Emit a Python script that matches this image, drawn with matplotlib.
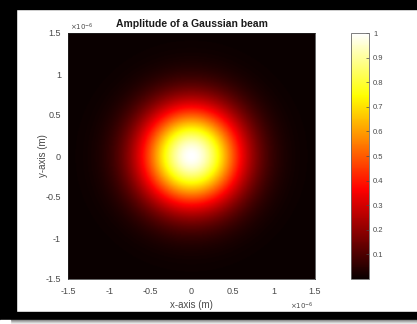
import numpy as np
import matplotlib.pyplot as plt
from matplotlib.patches import Rectangle

plt.rcParams['font.family'] = ['Liberation Sans', 'DejaVu Sans']

# beam parameters (metres)
x_lim = [-1.5e-6, 1.5e-6]
y_lim = [-1.5e-6, 1.5e-6]
waist = 0.6e-6
n_points = 301

tick_vals = [-1.5, -1, -0.5, 0, 0.5, 1, 1.5]
tick_labels = ['-1.5', '-1', '-0.5', '0', '0.5', '1', '1.5']
cbar_ticks = [0.1, 0.2, 0.3, 0.4, 0.5, 0.6, 0.7, 0.8, 0.9, 1]
cbar_labels = ['0.1', '0.2', '0.3', '0.4', '0.5', '0.6', '0.7', '0.8', '0.9', '1']

x = np.linspace(x_lim[0], x_lim[1], n_points)
y = np.linspace(y_lim[0], y_lim[1], n_points)
X, Y = np.meshgrid(x, y)
amp = np.exp(-(X**2 + Y**2) / waist**2)

W, H = 417, 324
fig = plt.figure(figsize=(W / 100, H / 100), dpi=100)
fig.patch.set_facecolor('white')

def px(l, t, r, b):
    # pixel box (left, top, right, bottom) -> figure fraction rect
    return [l / W, 1 - b / H, (r - l) / W, (b - t) / H]

ax = fig.add_axes(px(68, 33, 315, 279))
im = ax.imshow(amp, cmap='hot', origin='lower', interpolation='bilinear',
               extent=[x_lim[0], x_lim[1], y_lim[0], y_lim[1]], aspect='auto')

tc = '#4a4a4a'
ax.set_xticks([v * 1e-6 for v in tick_vals])
ax.set_xticklabels(tick_labels)
ax.set_yticks([v * 1e-6 for v in tick_vals])
ax.set_yticklabels(tick_labels)
ax.tick_params(direction='in', length=0, labelsize=6.5, colors=tc)
ax.tick_params(axis='x', pad=6)
ax.tick_params(axis='y', pad=5)
for s in ax.spines.values():
    s.set_color('#262626')
    s.set_linewidth(0.5)

ax.set_xlabel('x-axis (m)', fontsize=7, color=tc, labelpad=3)
ax.set_ylabel('y-axis (m)', fontsize=7, color=tc, labelpad=-2)
ax.set_title('Amplitude of a Gaussian beam', fontsize=7.5, fontweight='bold',
             color='#1a1a1a', pad=4, x=0.5)

# MATLAB-style exponent tags
fig.text(70 / W, 1 - 27 / H, r'$\times10^{-6}$', fontsize=5, color=tc,
         ha='left', va='center')
fig.text(290 / W, 1 - 306 / H, r'$\times10^{-6}$', fontsize=5, color=tc,
         ha='left', va='center')

cax = fig.add_axes(px(351, 33, 369, 279))
cb = fig.colorbar(im, cax=cax)
cb.set_ticks(cbar_ticks)
cb.set_ticklabels(cbar_labels)
cb.outline.set_edgecolor('#6a6a6a')
cb.outline.set_linewidth(0.6)
cax.tick_params(direction='in', length=2, width=0.5, labelsize=5.5,
                colors=tc, pad=3)

# screenshot frame: black border on left, top and bottom with a soft shadow
frame = '#000000'
fig.patches.append(Rectangle((0, 0), 16 / W, 1, transform=fig.transFigure,
                             color=frame, zorder=10))
fig.patches.append(Rectangle((0, 1 - 9 / H), 1, 9 / H, transform=fig.transFigure,
                             color=frame, zorder=10))
fig.patches.append(Rectangle((0, 4 / H), 1, 8 / H, transform=fig.transFigure,
                             color=frame, zorder=10))
shadow = np.linspace(0.55, 0.9, 4)
for i, g in enumerate(shadow):
    fig.patches.append(Rectangle((10 / W, (3 - i) / H), 1, 1 / H,
                                 transform=fig.transFigure,
                                 color=(g, g, g), zorder=10))
fig.patches.append(Rectangle((0, 0), 10 / W, 4 / H, transform=fig.transFigure,
                             color='white', zorder=10))

fig.savefig('out.png', dpi=100)
